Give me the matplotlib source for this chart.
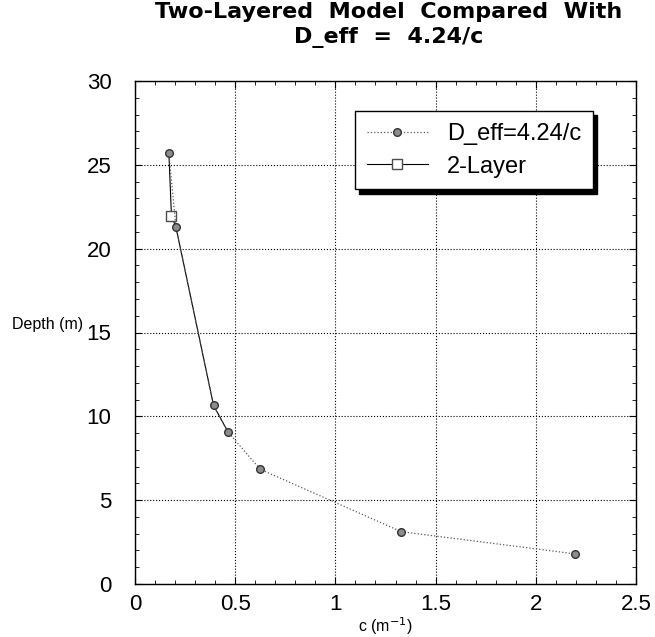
import matplotlib
matplotlib.use("Agg")
import matplotlib.pyplot as plt
from matplotlib.ticker import MultipleLocator

plt.rcParams['font.family'] = ['Liberation Sans', 'DejaVu Sans']

# D_eff = 4.24/c points
c_eff = [0.169, 0.204, 0.392, 0.465, 0.625, 1.329, 2.194]
d_eff = [25.7, 21.3, 10.65, 9.05, 6.84, 3.12, 1.8]

# two-layer model
c_two = [0.169, 0.182, 0.204, 0.392, 0.465]
d_two = [25.7, 21.95, 21.3, 10.65, 9.05]

fig = plt.figure(figsize=(6.55, 6.37), dpi=100)
ax = fig.add_axes([135 / 655, 53 / 637, 501 / 655, 503 / 637])

ax.plot(c_eff, d_eff, color='0.35', linestyle=':', linewidth=0.9,
        marker='o', markersize=5.5, markerfacecolor='0.55', markeredgecolor='0.2',
        label='D_eff=4.24/c', zorder=3)
ax.plot(c_two, d_two, color='black', linestyle='-', linewidth=0.8,
        marker='s', markersize=7, markerfacecolor='white', markeredgecolor='0.3',
        markevery=[1], label='2-Layer', zorder=2)

ax.set_xlim(0, 2.5)
ax.set_ylim(0, 30)
ax.xaxis.set_major_locator(MultipleLocator(0.5))
ax.xaxis.set_minor_locator(MultipleLocator(0.1))
ax.yaxis.set_major_locator(MultipleLocator(5))
ax.yaxis.set_minor_locator(MultipleLocator(1))
ax.set_xticks([0, 0.5, 1, 1.5, 2, 2.5])
ax.set_xticklabels(['0', '0.5', '1', '1.5', '2', '2.5'])
ax.tick_params(which='both', direction='in', top=True, right=True, labelsize=16)
ax.tick_params(which='major', length=5)
ax.tick_params(which='minor', length=3)
ax.tick_params(axis='x', which='major', pad=7)
ax.tick_params(axis='y', which='major', pad=17)
ax.grid(True, which='major', linestyle=':', color='black', linewidth=0.8)
for s in ax.spines.values():
    s.set_linewidth(1.0)

ax.set_xlabel('c (m$^{-1}$)', fontsize=11.5, va='center')
ax.xaxis.set_label_coords(0.5, -0.083)
ax.set_ylabel('Depth (m)', fontsize=11.5, rotation=0, va='center', ha='right')
ax.yaxis.set_label_coords(-0.103, 0.515)

fig.text(389 / 655, 1 - 25 / 637, 'Two-Layered  Model  Compared  With\nD_eff  =  4.24/c',
         fontsize=16, fontweight='bold', family='DejaVu Sans',
         ha='center', va='center', linespacing=1.3)

leg = ax.legend(loc='upper left', bbox_to_anchor=(0.439, 0.94), fontsize=17,
                frameon=True, fancybox=False, edgecolor='black', framealpha=1,
                borderpad=0.5, borderaxespad=0, handlelength=2.6, labelspacing=0.45,
                shadow={'color': 'black', 'alpha': 1.0, 'ox': 3, 'oy': -3})
leg.get_frame().set_linewidth(1.0)

fig.savefig('out.png', dpi=100)
